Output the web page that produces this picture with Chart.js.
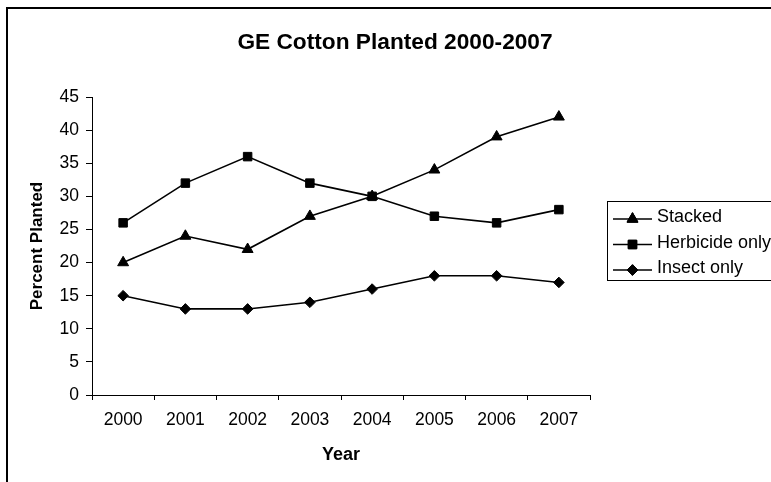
<!DOCTYPE html>
<html>
<head>
<meta charset="utf-8">
<script src="https://cdn.jsdelivr.net/npm/chart.js@4/dist/chart.umd.min.js"></script>
<style>
  html, body { margin: 0; padding: 0; background: #ffffff; }
  #wrap { width: 771px; height: 482px; }
</style>
</head>
<body>
<div id="wrap"><canvas id="chart" width="771" height="482"></canvas></div>
<script>
// Percent of US cotton acreage planted with genetically engineered varieties
const years = ['2000', '2001', '2002', '2003', '2004', '2005', '2006', '2007'];
const stacked = [20, 24, 22, 27, 30, 34, 39, 42];
const herbicideOnly = [26, 32, 36, 32, 30, 27, 26, 28];
const insectOnly = [15, 13, 13, 14, 16, 18, 18, 17];

const FONT = "'Liberation Sans', Arial, sans-serif";

// White page plus the thick frame around the chart
const framePlugin = {
  id: 'frame',
  beforeDraw(chart) {
    const ctx = chart.ctx;
    ctx.save();
    ctx.fillStyle = '#ffffff';
    ctx.fillRect(0, 0, chart.width, chart.height);
    ctx.restore();
  },
  afterDraw(chart) {
    const ctx = chart.ctx;
    ctx.save();
    ctx.strokeStyle = '#000000';
    ctx.lineWidth = 2;
    ctx.strokeRect(7, 8, 900, 700);
    ctx.restore();
  }
};

// Boxed legend on the right, with a line sample and marker per series
const boxLegendPlugin = {
  id: 'boxLegend',
  afterDraw(chart) {
    const ctx = chart.ctx;
    const left = 607, top = 201, bottom = 280;
    const rows = [219, 244.5, 270];
    ctx.save();
    ctx.strokeStyle = '#000000';
    ctx.lineWidth = 1;
    ctx.strokeRect(left + 0.5, top + 0.5, 300, bottom - top);
    ctx.font = '18px ' + FONT;
    ctx.fillStyle = '#000000';
    ctx.textBaseline = 'middle';
    ctx.textAlign = 'left';
    chart.data.datasets.forEach((ds, i) => {
      const y = rows[i];
      ctx.beginPath();
      ctx.lineWidth = 1.5;
      ctx.strokeStyle = '#000000';
      ctx.moveTo(613, y);
      ctx.lineTo(652, y);
      ctx.stroke();
      ctx.lineWidth = 1;
      Chart.helpers.drawPoint(ctx, {
        pointStyle: ds.pointStyle,
        radius: ds.pointRadius,
        rotation: 0,
        borderWidth: 1
      }, 632.5, y);
      ctx.fillStyle = '#000000';
      ctx.fill();
      ctx.stroke();
      ctx.fillText(ds.label, 657, y - 1.5);
    });
    ctx.restore();
  }
};

const lineStyle = {
  borderColor: '#000000',
  backgroundColor: '#000000',
  pointBackgroundColor: '#000000',
  pointBorderColor: '#000000',
  borderWidth: 1.6,
  pointBorderWidth: 1,
  tension: 0,
  fill: false
};

new Chart(document.getElementById('chart'), {
  type: 'line',
  data: {
    labels: years,
    datasets: [
      Object.assign({ label: 'Stacked', data: stacked, pointStyle: 'triangle', pointRadius: 6.3 }, lineStyle),
      Object.assign({ label: 'Herbicide only', data: herbicideOnly, pointStyle: 'rect', pointRadius: 6 }, lineStyle),
      Object.assign({ label: 'Insect only', data: insectOnly, pointStyle: 'rectRot', pointRadius: 5.3 }, lineStyle)
    ]
  },
  options: {
    responsive: false,
    animation: false,
    devicePixelRatio: 1,
    layout: { padding: { left: 19, right: 0, top: 0, bottom: 0 } },
    plugins: {
      legend: { display: false },
      tooltip: { enabled: false },
      title: {
        display: true,
        text: 'GE Cotton Planted 2000-2007',
        color: '#000000',
        font: { family: FONT, size: 22.7, weight: 'bold', lineHeight: 1.2 },
        padding: { top: 29.4, bottom: 40.4 }
      }
    },
    scales: {
      x: {
        type: 'category',
        offset: true,
        grid: {
          offset: true,
          drawOnChartArea: false,
          drawTicks: true,
          tickLength: 5,
          color: '#000000',
          lineWidth: 1
        },
        border: { display: true, color: '#000000', width: 1 },
        ticks: {
          color: '#000000',
          padding: 10,
          maxRotation: 0,
          autoSkip: false,
          font: { family: FONT, size: 17.5, lineHeight: 1.2 }
        },
        title: {
          display: true,
          text: 'Year',
          color: '#000000',
          font: { family: FONT, size: 18, weight: 'bold', lineHeight: 1.2 },
          padding: { top: 0, bottom: 16.2 }
        },
        afterFit(scale) { scale.height = 87; }
      },
      y: {
        position: 'left',
        min: 0,
        max: 45,
        grid: {
          drawOnChartArea: false,
          drawTicks: true,
          tickLength: 6,
          color: '#000000',
          lineWidth: 1
        },
        border: { display: true, color: '#000000', width: 1 },
        ticks: {
          stepSize: 5,
          color: '#000000',
          padding: 7,
          font: { family: FONT, size: 17.5, lineHeight: 1.2 }
        },
        title: {
          display: true,
          text: 'Percent Planted',
          color: '#000000',
          font: { family: FONT, size: 17, weight: 'bold', lineHeight: 1.2 },
          padding: { top: 8.3, bottom: 0 }
        },
        afterFit(scale) { scale.width = 73; }
      },
      // empty right-hand axis that reserves the room the legend sits in
      side: {
        position: 'right',
        display: true,
        grid: { display: false, drawTicks: false },
        border: { display: false },
        ticks: { display: false },
        afterFit(scale) { scale.width = 181; }
      }
    }
  },
  plugins: [framePlugin, boxLegendPlugin]
});
</script>
</body>
</html>
